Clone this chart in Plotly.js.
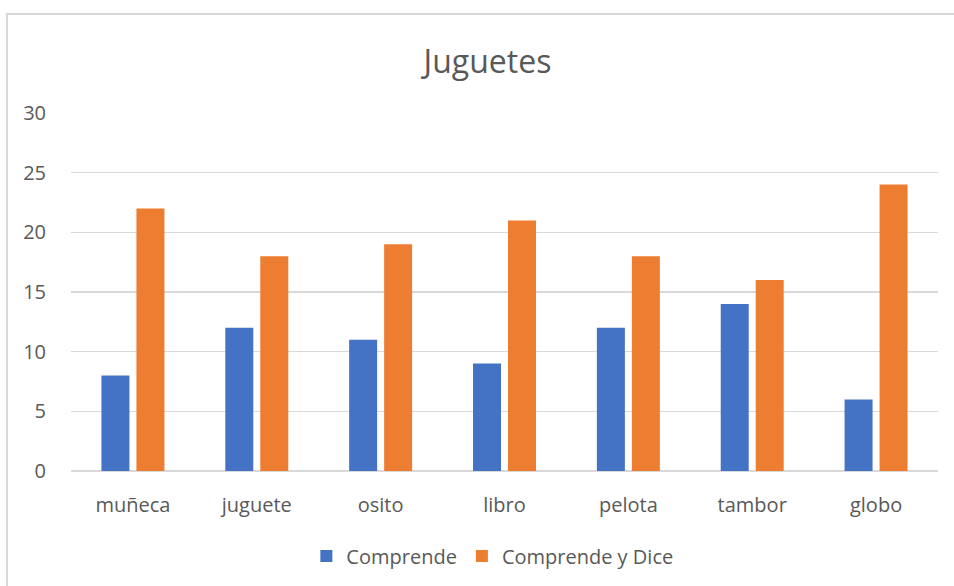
<!DOCTYPE html>
<html>
<head>
<meta charset="utf-8">
<script src="https://cdn.plot.ly/plotly-3.0.1.min.js"></script>
<style>
  html, body { margin: 0; padding: 0; background: #fff; overflow: hidden; }
  #chart { width: 954px; height: 586px; }
  #frame {
    position: absolute; left: 6px; top: 13px; width: 1000px; height: 700px;
    border-left: 2px solid #d9d9d9; border-top: 2px solid #d9d9d9;
    pointer-events: none;
  }
</style>
</head>
<body>
<div id="chart"></div>
<div id="frame"></div>
<script>
// Toy vocabulary: children who understand vs. understand and say each word
const categories = ["muñeca", "juguete", "osito", "libro", "pelota", "tambor", "globo"];
const comprende = [8, 12, 11, 9, 12, 14, 6];
const comprendeYDice = [22, 18, 19, 21, 18, 16, 24];
const yTicks = [0, 5, 10, 15, 20, 25, 30];

const FONT = "'Open Sans', 'Noto Sans', sans-serif";
const TEXT = "#595959";

const traces = [
  { type: "bar", name: "Comprende", x: categories, y: comprende,
    marker: { color: "#4472C4" }, hoverinfo: "x+y+name" },
  { type: "bar", name: "Comprende y Dice", x: categories, y: comprendeYDice,
    marker: { color: "#ED7D31" }, hoverinfo: "x+y+name" }
];

const layout = {
  width: 954, height: 586,
  margin: { l: 71, r: 16, t: 113, b: 115, autoexpand: false },
  paper_bgcolor: "#fff", plot_bgcolor: "#fff",
  font: { family: FONT, color: TEXT, size: 20 },
  title: { text: "Juguetes", font: { family: FONT, size: 32, color: TEXT },
           x: 0.511, xanchor: "center", y: 0.895, yanchor: "middle" },
  barmode: "group", bargap: 0.435, bargroupgap: 0.2,
  xaxis: { type: "category", showgrid: false, showline: false, zeroline: false,
           automargin: false,
           ticks: "", ticklabelstandoff: 20, tickfont: { size: 20, color: TEXT } },
  yaxis: { range: [0, 30], tickvals: yTicks, ticktext: yTicks.map(String),
           automargin: false,
           showgrid: true, gridcolor: "#d9d9d9", gridwidth: 1.5,
           zeroline: true, zerolinecolor: "#d9d9d9", zerolinewidth: 1.5,
           showline: false, ticks: "", ticklabelstandoff: 24,
           tickfont: { size: 20, color: TEXT } },
  legend: { orientation: "h", x: 0.486, xanchor: "center",
            yref: "container", y: 0.051, yanchor: "middle",
            font: { size: 20, color: TEXT }, itemwidth: 30, traceorder: "normal" },
  showlegend: true
};

Plotly.newPlot("chart", traces, layout, { displayModeBar: false, staticPlot: true });
</script>
</body>
</html>
